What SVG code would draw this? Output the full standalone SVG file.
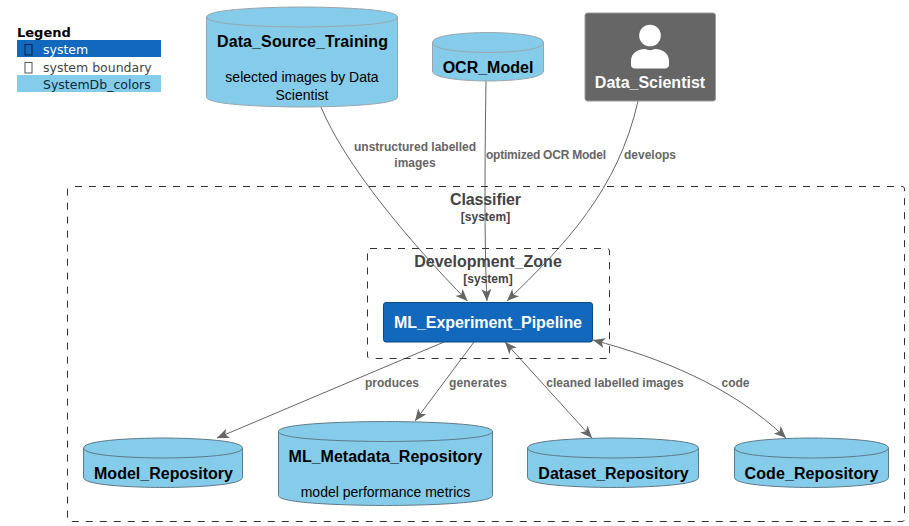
<svg xmlns="http://www.w3.org/2000/svg" width="909" height="526" viewBox="0 0 909 526">
<style>
text{font-family:"Liberation Sans",Arial,sans-serif;text-anchor:middle}
.db{fill:#85CCEB;stroke:#5f7a88;stroke-width:1}
.top{stroke:#9aa6ac}
.t{font-size:16px;font-weight:bold;fill:#000}
.d{font-size:14px;fill:#000}
.w{font-size:16px;font-weight:bold;fill:#fff}
.e{fill:none;stroke:#666;stroke-width:1}
.l{font-size:12px;font-weight:bold;fill:#666}
.b{fill:none;stroke:#333;stroke-width:1;stroke-dasharray:7,7}
.bt{font-size:16px;font-weight:bold;fill:#444}
.bs{font-size:12px;font-weight:bold;fill:#444}
.lg{font-family:"DejaVu Sans",sans-serif;font-size:12.5px;text-anchor:start}
</style>
<defs>
<marker id="a" markerUnits="userSpaceOnUse" markerWidth="14" markerHeight="12" refX="12" refY="5" orient="auto-start-reverse">
<path d="M0,0L12,5L0,10L3,5Z" fill="#666"/>
</marker>
</defs>
<g id="legend">
<text x="17" y="37" style="font-family:'DejaVu Sans',sans-serif;font-size:13px;font-weight:bold;text-anchor:start" fill="#000">Legend</text>
<rect x="17" y="40" width="144" height="17" fill="#1168BD"/>
<rect x="25" y="44.500" width="7" height="10.500" fill="none" stroke="#08243f" stroke-width="1"/>
<text class="lg" x="43" y="54" fill="#fff">system</text>
<rect x="25" y="62.500" width="7" height="10.500" fill="none" stroke="#555" stroke-width="1"/>
<text class="lg" x="43" y="72" fill="#444">system boundary</text>
<rect x="17" y="75" width="144" height="17" fill="#85CCEB"/>
<text class="lg" x="43" y="89" fill="#0a2a3a">SystemDb_colors</text>
</g>
<g id="connectors">
<path class="e" marker-end="url(#a)" d="M321,107C345,165 408,240 467.500,301"/>
<path class="e" marker-end="url(#a)" d="M486,81C485,150 484,240 487,301"/>
<path class="e" marker-end="url(#a)" d="M638,101C618,190 565,245 507,301"/>
<path class="e" marker-end="url(#a)" d="M444,342L217,438"/>
<path class="e" marker-end="url(#a)" d="M474,342L415,421"/>
<path class="e" marker-start="url(#a)" marker-end="url(#a)" d="M505,342L592,438"/>
<path class="e" marker-start="url(#a)" marker-end="url(#a)" d="M593,340C660,358 730,385 786,438"/>
</g>
<g id="labels">
<text class="l" x="415" y="151">unstructured labelled</text>
<text class="l" x="415" y="167">images</text>
<text class="l" x="546" y="159" textLength="120">optimized OCR Model</text>
<text class="l" x="650" y="159">develops</text>
<text class="l" x="392" y="387">produces</text>
<text class="l" x="478" y="387" textLength="58">generates</text>
<text class="l" x="615" y="387">cleaned labelled images</text>
<text class="l" x="735.500" y="387">code</text>
</g>
<g id="Classifier">
<path class="b" d="M75,186.500H902C903.500,186.500 904.500,187.500 904.500,189V519C904.500,520.500 903.500,521.500 902,521.500H70C68.500,521.500 67.500,520.500 67.500,519V189C67.500,187.500 68.500,186.500 70,186.500"/>
<text class="bt" x="485.500" y="205" textLength="71">Classifier</text>
<text class="bs" x="485.500" y="221">[system]</text>
</g>
<g id="Development_Zone">
<rect class="b" x="367.500" y="248.500" width="242" height="110" rx="2.500"/>
<text class="bt" x="488" y="267">Development_Zone</text>
<text class="bs" x="488" y="283">[system]</text>
</g>
<g id="Data_Source_Training">
<path class="db top" d="M206.500,17C206.500,7 302,7 302,7C302,7 397.500,7 397.500,17V97C397.500,107 302,107 302,107C302,107 206.500,107 206.500,97Z"/>
<path class="db top" style="fill:none" d="M206.500,17C206.500,27 302,27 302,27C302,27 397.500,27 397.500,17"/>
<text class="t" x="302.500" y="47" textLength="171">Data_Source_Training</text>
<text class="d" x="302" y="82">selected images by Data</text>
<text class="d" x="302" y="100">Scientist</text>
</g>
<g id="OCR_Model">
<path class="db top" d="M432.500,42.500C432.500,32.500 488,32.500 488,32.500C488,32.500 543.500,32.500 543.500,42.500V71C543.500,81 488,81 488,81C488,81 432.500,81 432.500,71Z"/>
<path class="db top" style="fill:none" d="M432.500,42.500C432.500,52.500 488,52.500 488,52.500C488,52.500 543.500,52.500 543.500,42.500"/>
<text class="t" x="488" y="73">OCR_Model</text>
</g>
<g id="Data_Scientist">
<rect x="585" y="13" width="130.500" height="88" rx="2.500" fill="#666" stroke="#999" stroke-width="1"/>
<circle cx="650" cy="35.500" r="10.800" fill="#fff"/>
<path d="M631,68V61C631,53 638,49 645,49C648,50.500 652,50.500 655,49C662,49 669,53 669,61V65C669,67 667,68.500 665,68.500H635C632.500,68.500 631,67 631,65Z" fill="#fff"/>
<text class="w" x="650" y="88">Data_Scientist</text>
</g>
<g id="ML_Experiment_Pipeline">
<rect x="383.500" y="302.500" width="209" height="39.500" rx="2.500" fill="#1168BD" stroke="#0B4884" stroke-width="1"/>
<text class="w" x="488" y="328" textLength="188">ML_Experiment_Pipeline</text>
</g>
<g id="Model_Repository">
<path class="db" d="M83.500,448C83.500,438 163,438 163,438C163,438 242.500,438 242.500,448V477.500C242.500,487.500 163,487.500 163,487.500C163,487.500 83.500,487.500 83.500,477.500Z"/>
<path class="db" style="fill:none" d="M83.500,448C83.500,458 163,458 163,458C163,458 242.500,458 242.500,448"/>
<text class="t" x="163.500" y="479" textLength="139">Model_Repository</text>
</g>
<g id="ML_Metadata_Repository">
<path class="db" d="M278.500,431.500C278.500,421.500 385.500,421.500 385.500,421.500C385.500,421.500 492.500,421.500 492.500,431.500V495.500C492.500,505.500 385.500,505.500 385.500,505.500C385.500,505.500 278.500,505.500 278.500,495.500Z"/>
<path class="db" style="fill:none" d="M278.500,431.500C278.500,441.500 385.500,441.500 385.500,441.500C385.500,441.500 492.500,441.500 492.500,431.500"/>
<text class="t" x="385.500" y="462">ML_Metadata_Repository</text>
<text class="d" x="385.500" y="497">model performance metrics</text>
</g>
<g id="Dataset_Repository">
<path class="db" d="M527.500,448C527.500,438 613,438 613,438C613,438 698.500,438 698.500,448V477.500C698.500,487.500 613,487.500 613,487.500C613,487.500 527.500,487.500 527.500,477.500Z"/>
<path class="db" style="fill:none" d="M527.500,448C527.500,458 613,458 613,458C613,458 698.500,458 698.500,448"/>
<text class="t" x="613.500" y="479">Dataset_Repository</text>
</g>
<g id="Code_Repository">
<path class="db" d="M734.500,448C734.500,438 811.500,438 811.500,438C811.500,438 888.500,438 888.500,448V477.500C888.500,487.500 811.500,487.500 811.500,487.500C811.500,487.500 734.500,487.500 734.500,477.500Z"/>
<path class="db" style="fill:none" d="M734.500,448C734.500,458 811.500,458 811.500,458C811.500,458 888.500,458 888.500,448"/>
<text class="t" x="811.500" y="479" textLength="134">Code_Repository</text>
</g>
</svg>
